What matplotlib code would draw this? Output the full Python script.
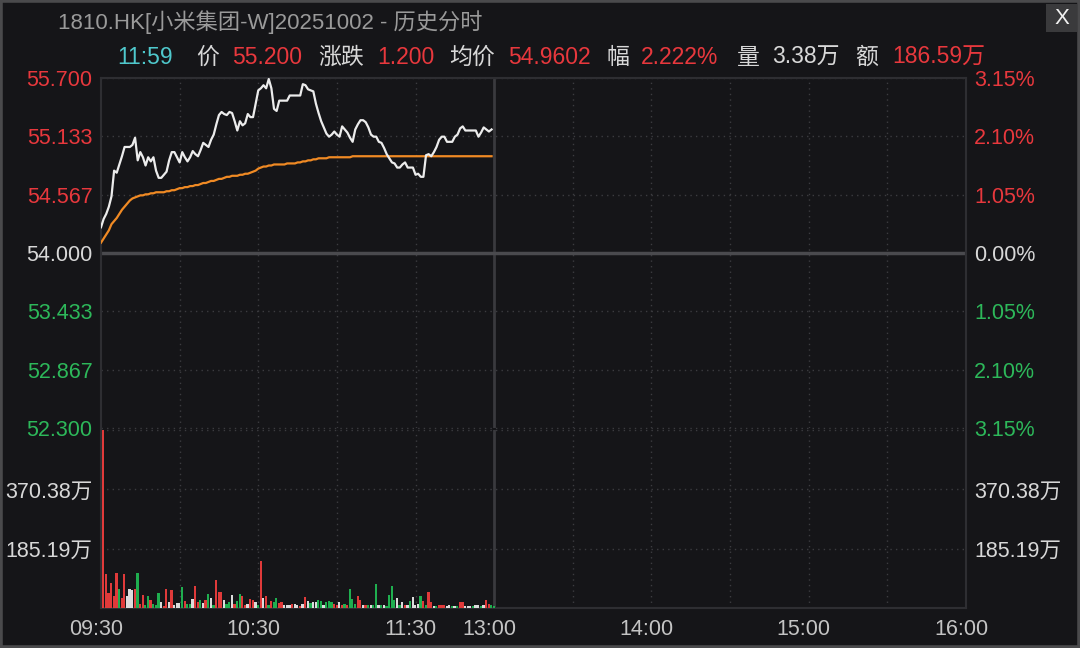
import matplotlib
matplotlib.use("Agg")
import matplotlib.pyplot as plt
from matplotlib.patches import Rectangle
from matplotlib.transforms import ScaledTranslation

plt.rcParams['font.family'] = ['Liberation Sans', 'Noto Sans CJK SC', 'DejaVu Sans']

# minute prices 09:30 - 11:59
price = [54.25, 54.33, 54.38, 54.45, 54.55, 54.80, 54.78, 54.86, 54.94, 55.03,
         55.03, 55.03, 55.05, 55.12, 54.90, 54.98, 54.93, 54.85, 54.93, 54.89,
         54.93, 54.80, 54.73, 54.73, 54.76, 54.79, 54.90, 54.98, 54.98, 54.93,
         54.88, 54.98, 54.93, 54.89, 54.93, 54.99, 54.96, 54.94, 55.00, 55.07,
         55.05, 55.03, 55.10, 55.15, 55.25, 55.34, 55.37, 55.35, 55.34, 55.37,
         55.36, 55.28, 55.19, 55.28, 55.24, 55.26, 55.35, 55.32, 55.32, 55.45,
         55.58, 55.60, 55.63, 55.60, 55.69, 55.60, 55.40, 55.38, 55.48, 55.48,
         55.48, 55.48, 55.53, 55.53, 55.53, 55.53, 55.53, 55.64, 55.63, 55.59,
         55.58, 55.57, 55.45, 55.36, 55.28, 55.22, 55.16, 55.13, 55.15, 55.18,
         55.15, 55.13, 55.23, 55.20, 55.17, 55.12, 55.08, 55.20, 55.25, 55.29,
         55.29, 55.27, 55.22, 55.15, 55.13, 55.13, 55.08, 55.07, 55.02, 54.96,
         54.92, 54.88, 54.87, 54.83, 54.83, 54.86, 54.88, 54.83, 54.83, 54.83,
         54.76, 54.77, 54.74, 54.74, 54.95, 54.96, 54.94, 54.98, 55.03, 55.10,
         55.13, 55.13, 55.08, 55.08, 55.08, 55.13, 55.15, 55.21, 55.23, 55.19,
         55.19, 55.19, 55.19, 55.19, 55.13, 55.17, 55.22, 55.20, 55.18, 55.20]

avg_price = [54.10, 54.14, 54.18, 54.22, 54.28, 54.31, 54.34, 54.38, 54.42, 54.45,
             54.48, 54.51, 54.53, 54.54, 54.55, 54.56, 54.56, 54.57, 54.57, 54.58,
             54.58, 54.59, 54.59, 54.59, 54.59, 54.60, 54.60, 54.61, 54.61, 54.62,
             54.63, 54.63, 54.64, 54.64, 54.65, 54.65, 54.66, 54.66, 54.67, 54.68,
             54.68, 54.69, 54.70, 54.70, 54.71, 54.72, 54.72, 54.73, 54.74, 54.74,
             54.75, 54.75, 54.75, 54.76, 54.76, 54.77, 54.77, 54.78, 54.79, 54.80,
             54.82, 54.83, 54.84, 54.84, 54.85, 54.85, 54.86, 54.86, 54.86, 54.86,
             54.86, 54.87, 54.87, 54.87, 54.87, 54.88, 54.88, 54.89, 54.89, 54.90,
             54.90, 54.91, 54.91, 54.92, 54.92, 54.92, 54.92, 54.93, 54.93, 54.93,
             54.93, 54.93, 54.93, 54.93, 54.93, 54.93, 54.94, 54.94, 54.94, 54.94,
             54.94, 54.94, 54.94, 54.94, 54.94, 54.94, 54.94, 54.94, 54.94, 54.94,
             54.94, 54.94, 54.94, 54.94, 54.94, 54.94, 54.94, 54.94, 54.94, 54.94,
             54.94, 54.94, 54.94, 54.94, 54.94, 54.94, 54.94, 54.94, 54.94, 54.94,
             54.94, 54.94, 54.94, 54.94, 54.94, 54.94, 54.94, 54.94, 54.94, 54.94,
             54.94, 54.94, 54.94, 54.94, 54.94, 54.94, 54.94, 54.94, 54.94, 54.94]

# volume per minute (万) and colour code: r up, g down, w flat
volume = [555, 105, 47, 78, 37, 108, 60, 31, 105, 39,
          60, 55, 58, 110, 14, 42, 10, 37, 26, 14,
          10, 47, 18, 7, 60, 18, 55, 10, 16, 16,
          66, 21, 14, 14, 28, 70, 18, 26, 16, 24,
          45, 31, 10, 87, 51, 51, 26, 14, 18, 42,
          14, 21, 45, 37, 10, 14, 28, 26, 18, 10,
          147, 31, 37, 10, 21, 18, 31, 16, 18, 10,
          10, 10, 14, 14, 10, 7, 14, 35, 21, 16,
          18, 18, 26, 21, 10, 18, 21, 18, 14, 10,
          18, 10, 14, 10, 60, 28, 14, 39, 26, 10,
          10, 10, 10, 10, 76, 10, 10, 10, 7, 42,
          68, 26, 31, 10, 20, 10, 10, 21, 35, 10,
          14, 39, 21, 10, 51, 18, 7, 5, 10, 10,
          10, 7, 10, 5, 7, 7, 18, 20, 7, 5,
          7, 7, 10, 10, 7, 10, 26, 14, 10, 7]
vol_dir = list("rrrrrrgrrw" "wwrgrrggrg" "ggwrrwrwww" "grggwrrgwr" "gwgrrrwggw"
               "rggrrwrrwg" "rwrgrggrrw" "wwrwwrwrwg" "wwggwgggrr" "wrgrgggrrw"
               "rgwggwgwgg" "ggwgwrwgww" "wgrgrrwgrr" "rwwgwgrrww" "wgwwgwrrgg")

price_ticks = [52.3, 52.867, 53.433, 54.0, 54.567, 55.133, 55.7]
price_labels = ['52.300', '52.867', '53.433', '54.000', '54.567', '55.133', '55.700']
pct_labels = ['3.15%', '2.10%', '1.05%', '0.00%', '1.05%', '2.10%', '3.15%']
vol_ticks = [185.19, 370.38]
vol_labels = ['185.19万', '370.38万']
time_ticks = [0, 60, 120, 150, 210, 270, 330]
time_labels = ['09:30', '10:30', '11:30', '13:00', '14:00', '15:00', '16:00']
grid_minutes = [30, 60, 90, 120, 180, 210, 240, 270, 300]

BG = '#151518'
RED = '#e8383d'
GREEN = '#2db85a'
WHITE = '#d8d8d8'
GRID = '#3c3c40'
colour_map = {'r': '#e03a3a', 'g': '#1fae4f', 'w': '#dcdcdc'}

fig = plt.figure(figsize=(10.8, 6.48), dpi=100, facecolor=BG)
W, H = 1080, 648

ax_p = fig.add_axes([101 / W, 1 - 428 / H, 865 / W, 350 / H], facecolor=BG)
ax_v = fig.add_axes([101 / W, 1 - 608 / H, 865 / W, 178 / H], facecolor=BG)

minutes = list(range(len(price)))
ax_p.plot(minutes, price, color='#ececec', lw=1.6, zorder=5)
ax_p.plot(minutes, avg_price[:len(price)], color='#f08a24', lw=1.6, zorder=4)

bar_x = [m + 0.9 for m in range(len(volume))]
ax_v.bar(bar_x, volume, width=0.85, color=[colour_map[c] for c in vol_dir], zorder=3)

for ax in (ax_p, ax_v):
    ax.set_xlim(0, 330)
    for m in grid_minutes:
        ax.axvline(m, color=GRID, lw=1, ls=(0, (1, 3)), zorder=1)
    ax.axvline(150, color='#3a3a3e', lw=2, zorder=2)
    for s in ax.spines.values():
        s.set_color('#2e2e32')
        s.set_linewidth(1.5)
    ax.tick_params(length=0)

# price panel
ax_p.set_ylim(52.3, 55.7)
ax_p.spines['bottom'].set_visible(False)
for v in price_ticks:
    if v == 54.0:
        ax_p.axhline(v, color='#4a4a4e', lw=2.5, zorder=2)
    else:
        ax_p.axhline(v, color=GRID, lw=1, ls=(0, (1, 3)), zorder=1, clip_on=False)
ax_p.set_xticks([])
ax_p.set_yticks(price_ticks)
ax_p.set_yticklabels(price_labels, fontsize=15.5)
ax_p.tick_params(axis='y', pad=6)
for lab, v in zip(ax_p.get_yticklabels(), price_ticks):
    lab.set_color(RED if v > 54 else (GREEN if v < 54 else WHITE))

ax_r = ax_p.twinx()
ax_r.set_ylim(52.3, 55.7)
ax_r.set_yticks(price_ticks)
ax_r.set_yticklabels(pct_labels, fontsize=15.5)
ax_r.tick_params(length=0, pad=6)
for s in ax_r.spines.values():
    s.set_visible(False)
for lab, v in zip(ax_r.get_yticklabels(), price_ticks):
    lab.set_color(RED if v > 54 else (GREEN if v < 54 else WHITE))

# volume panel
ax_v.set_ylim(0, 555.57)
ax_v.spines['top'].set_visible(False)
for v in vol_ticks + [555.57]:
    ax_v.axhline(v, color=GRID, lw=1, ls=(0, (1, 3)), zorder=1)
ax_v.set_yticks(vol_ticks)
ax_v.set_yticklabels(vol_labels, fontsize=15.5, color=WHITE)
ax_v.tick_params(axis='y', pad=6, labelright=True, labelleft=True)
ax_v.set_xticks(time_ticks)
ax_v.set_xticklabels(time_labels, fontsize=15.5, color='#c4c4c4')
ax_v.tick_params(axis='x', pad=8)
shift = ScaledTranslation(-5 / 100, 0, fig.dpi_scale_trans)
for lab in ax_v.get_xticklabels():
    lab.set_transform(lab.get_transform() + shift)

# header
fig.text(58 / W, 1 - 22 / H, '1810.HK[小米集团-W]20251002 - 历史分时',
         color='#9a9a9a', fontsize=16, va='center', ha='left')
header = [(117, '11:59', '#4fc8cc'), (196, '价', WHITE), (232, '55.200', RED),
          (318, '涨跌', WHITE), (377, '1.200', RED), (449, '均价', WHITE),
          (508, '54.9602', RED), (607, '幅', WHITE), (641, '2.222%', RED),
          (737, '量', WHITE), (772, '3.38万', WHITE), (855, '额', WHITE),
          (892, '186.59万', RED)]
for x, t, c in header:
    fig.text(x / W, 1 - 57 / H, t, color=c, fontsize=16.5, va='center', ha='left')

# close button and outer frame
fig.patches.append(Rectangle((1046 / W, 1 - 32 / H), 31 / W, 28 / H,
                             transform=fig.transFigure, facecolor='#3a3a3c',
                             edgecolor='none'))
fig.text(1061.5 / W, 1 - 18 / H, 'X', color='#f0f0f0', fontsize=16,
         ha='center', va='center')
fig.patches.append(Rectangle((0, 0), 1, 1, transform=fig.transFigure,
                             facecolor='none', edgecolor='#4a4a4c', lw=4))

fig.savefig('out.png', dpi=100, facecolor=BG)
